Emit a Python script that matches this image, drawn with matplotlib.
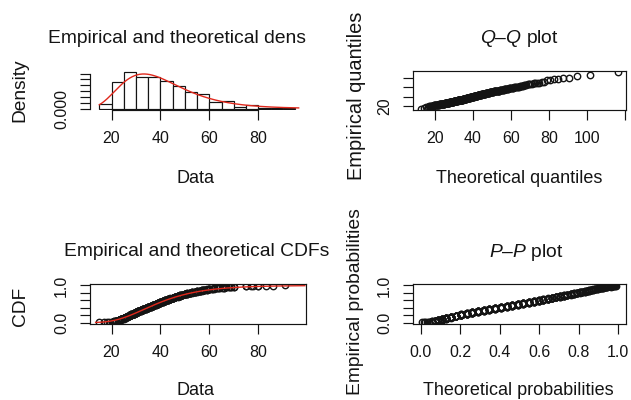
import numpy as np
import pandas as pd
import matplotlib
matplotlib.use("Agg")
import matplotlib.pyplot as plt
from statistics import NormalDist

# ---
# DATA  (observed ages with their frequencies, read off the histogram / ecdf)
# ---
ages = [15, 17, 18, 19, 20,
        21, 22, 23, 24, 25,
        26, 27, 28, 29, 30,
        31, 32, 33, 34, 35,
        36, 37, 38, 39, 40,
        41, 42, 43, 44, 45,
        46, 47, 48, 49, 50,
        51, 52, 53, 54, 55,
        56, 57, 58, 59, 60,
        61, 62, 63, 64, 65,
        66, 67, 68, 69, 70,
        75, 77, 78, 80, 83, 86, 91]
counts = [1, 1, 1, 1, 2,
          4, 6, 7, 8, 9,
          9, 9, 10, 9, 10,
          9, 8, 8, 8, 8,
          8, 9, 8, 8, 8,
          8, 7, 7, 7, 7,
          7, 6, 6, 5, 6,
          5, 5, 4, 4, 4,
          4, 4, 4, 3, 4,
          2, 2, 2, 2, 1,
          2, 2, 2, 2, 2,
          2, 1, 1, 2, 1, 1, 1]

hist_breaks = [15, 20, 25, 30, 35, 40, 45, 50, 55, 60, 65, 70, 75, 80, 85, 90, 95]

# fitted lognormal
meanlog = 3.645
sdlog = 0.378

dens_ticks = [0.000, 0.005, 0.010, 0.015, 0.020, 0.025, 0.030]
dens_labels = ["0.000", "", "", "", "", "", ""]
data_ticks = [20, 40, 60, 80]
qq_xticks = [20, 40, 60, 80, 100, 120]
qq_xlabels = ["20", "40", "60", "80", "100", ""]
qq_yticks = [20, 40, 60, 80]
qq_ylabels = ["20", "", "", ""]
p_ticks = [0.0, 0.2, 0.4, 0.6, 0.8, 1.0]
p_xlabels = ["0.0", "0.2", "0.4", "0.6", "0.8", "1.0"]
p_ylabels = ["0.0", "", "", "", "", "1.0"]

# ---
# helpers
# ---
nd = NormalDist()

def dlnorm(x):
    return np.exp(-(np.log(x) - meanlog) ** 2 / (2 * sdlog ** 2)) / (x * sdlog * np.sqrt(2 * np.pi))

def plnorm(x):
    return np.array([nd.cdf((np.log(v) - meanlog) / sdlog) for v in x])

def qlnorm(p):
    return np.array([np.exp(meanlog + sdlog * nd.inv_cdf(v)) for v in p])

def padded(lo, hi):
    d = (hi - lo) * 0.04
    return lo - d, hi + d

data = np.sort(np.repeat(ages, counts))
n = len(data)
pp = (np.arange(1, n + 1) - 0.5) / n

# right-closed bins like R's hist()
binned = pd.Series(pd.cut(data, hist_breaks, right=True, include_lowest=True))
hist_counts = binned.value_counts().sort_index().values
hist_dens = hist_counts / (n * 5.0)

# ---
# PLOT
# ---
plt.rcParams["font.family"] = ["Liberation Sans", "DejaVu Sans"]
plt.rcParams["mathtext.fontset"] = "custom"
plt.rcParams["mathtext.rm"] = "Liberation Sans"
plt.rcParams["mathtext.it"] = "Liberation Sans:italic"

W, H = 631, 400
fig = plt.figure(figsize=(W / 100, H / 100), dpi=100)
ink = "#141414"
red = "#e0281c"
mk = dict(linestyle="none", marker="o", mfc="none", mec=ink, ms=4.6, mew=1.0)

def make_ax(l, t, r, b):
    return fig.add_axes([l / W, 1 - b / H, (r - l) / W, (b - t) / H])

def ftext(x, y, s, **kw):
    fig.text(x / W, 1 - y / H, s, color=ink, **kw)

def style(ax, box=True):
    for sp in ax.spines.values():
        sp.set_color(ink)
        sp.set_linewidth(0.85)
        sp.set_visible(box)
    ax.tick_params(length=7, width=0.85, color=ink, labelsize=11.5, labelcolor=ink, pad=8)

def rot_y(ax):
    for lab in ax.get_yticklabels():
        lab.set_rotation(90)
        lab.set_va("center")

xr = (11.2, 99.5)

# density panel
ax1 = make_ax(90, 71, 306, 110)
style(ax1, box=False)
ax1.bar(hist_breaks[:-1], hist_dens, width=5, align="edge", facecolor="white",
        edgecolor=ink, linewidth=0.85)
xs = np.linspace(15, 96.5, 400)
ax1.plot(xs, dlnorm(xs), color=red, lw=1.0)
ax1.set_xlim(*xr)
ax1.set_ylim(*padded(0, max(hist_dens.max(), dlnorm(xs).max())))
ax1.spines["left"].set_visible(True)
ax1.spines["bottom"].set_visible(True)
ax1.spines["left"].set_bounds(dens_ticks[0], dens_ticks[-1])
ax1.spines["bottom"].set_bounds(data_ticks[0], data_ticks[-1])
ax1.set_xticks(data_ticks)
ax1.set_yticks(dens_ticks, dens_labels)
rot_y(ax1)

# Q-Q panel
ax2 = make_ax(413, 71, 626, 110)
style(ax2)
tq = qlnorm(pp)
ax2.plot(tq, data, **mk)
ax2.set_xlim(*padded(tq.min(), tq.max()))
ax2.set_ylim(*padded(data.min(), data.max()))
ax2.set_xticks(qq_xticks, qq_xlabels)
ax2.set_yticks(qq_yticks, qq_ylabels)
rot_y(ax2)

# CDF panel
ax3 = make_ax(90, 284, 306, 324)
style(ax3)
ecdf = np.arange(1, n + 1) / n
ax3.plot(data, ecdf, **mk)
xc = np.linspace(13.5, 99.0, 400)
ax3.plot(xc, plnorm(xc), color=red, lw=1.0)
ax3.set_xlim(*xr)
ax3.set_ylim(*padded(0, 1))
ax3.set_xticks(data_ticks)
ax3.set_yticks(p_ticks, p_ylabels)
rot_y(ax3)

# P-P panel
ax4 = make_ax(413, 284, 626, 324)
style(ax4)
ax4.plot(plnorm(data), pp, **mk)
ax4.set_xlim(*padded(0, 1))
ax4.set_ylim(*padded(0, 1))
ax4.set_xticks(p_ticks, p_xlabels)
ax4.set_yticks(p_ticks, p_ylabels)
rot_y(ax4)

# titles and axis labels
ftext(48, 43, "Empirical and theoretical dens", fontsize=13.9, ha="left", va="baseline")
ftext(519, 43, "$Q$–$Q$ plot", fontsize=13.9, ha="center", va="baseline")
ftext(197, 256, "Empirical and theoretical CDFs", fontsize=13.9, ha="center", va="baseline")
ftext(526, 257, "$P$–$P$ plot", fontsize=13.9, ha="center", va="baseline")

ftext(196, 183, "Data", fontsize=13, ha="center", va="baseline")
ftext(519, 183, "Theoretical quantiles", fontsize=13, ha="center", va="baseline")
ftext(195, 395, "Data", fontsize=13, ha="center", va="baseline")
ftext(518, 395, "Theoretical probabilities", fontsize=13, ha="center", va="baseline")

ftext(20, 90, "Density", fontsize=13.8, rotation=90, ha="center", va="center")
ftext(20, 306, "CDF", fontsize=13.8, rotation=90, ha="center", va="center")
ftext(357, 96, "Empirical quantiles", fontsize=14.4, rotation=90, ha="center", va="center")
ftext(355, 302, "Empirical probabilities", fontsize=13.9, rotation=90, ha="center", va="center")

fig.savefig("out.png", dpi=100, facecolor="white")
